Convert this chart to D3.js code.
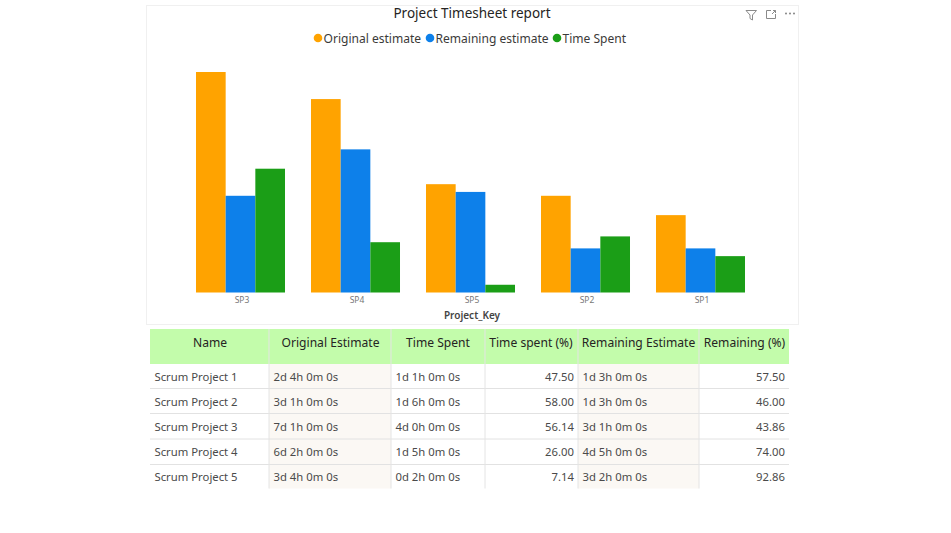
<!DOCTYPE html>
<html>
<head>
<meta charset="utf-8">
<script src="https://cdn.jsdelivr.net/npm/d3@7"></script>
<style>
  html, body { margin: 0; padding: 0; background: #fff; }
  svg { display: block; }
  text { font-family: "Noto Sans", "Open Sans", sans-serif; }
</style>
</head>
<body>
<div id="chart"></div>
<script>
// ----- chart data, in working hours (1d = 8h)
var projectKeys = ["SP3", "SP4", "SP5", "SP2", "SP1"];
var originalEstimate = [57, 50, 28, 25, 20];
var remainingEstimate = [25, 37, 26, 11.4, 11.4];
var timeSpent = [32, 13, 2, 14.5, 9.4];

var seriesNames = ["Original estimate", "Remaining estimate", "Time Spent"];
var seriesColors = ["#ffa300", "#0d80ea", "#1b9e17"];

// ----- table data
var tableHeaders = ["Name", "Original Estimate", "Time Spent", "Time spent (%)", "Remaining Estimate", "Remaining (%)"];
var projectNames = ["Scrum Project 1", "Scrum Project 2", "Scrum Project 3", "Scrum Project 4", "Scrum Project 5"];
var originalText = ["2d 4h 0m 0s", "3d 1h 0m 0s", "7d 1h 0m 0s", "6d 2h 0m 0s", "3d 4h 0m 0s"];
var spentText = ["1d 1h 0m 0s", "1d 6h 0m 0s", "4d 0h 0m 0s", "1d 5h 0m 0s", "0d 2h 0m 0s"];
var spentPct = ["47.50", "58.00", "56.14", "26.00", "7.14"];
var remainingText = ["1d 3h 0m 0s", "1d 3h 0m 0s", "3d 1h 0m 0s", "4d 5h 0m 0s", "3d 2h 0m 0s"];
var remainingPct = ["57.50", "46.00", "43.86", "74.00", "92.86"];

var w = 951;
var h = 533;

var svg = d3.select("#chart").append("svg").attr("width", w).attr("height", h);

// ----- visual frame
svg.append("rect")
    .attr("x", 146.5).attr("y", 5.5)
    .attr("width", 652).attr("height", 319)
    .attr("fill", "#fff").attr("stroke", "#f0f0f0");

svg.append("text")
    .attr("x", 472).attr("y", 18)
    .attr("text-anchor", "middle")
    .attr("font-size", 13.5)
    .attr("fill", "#252423")
    .text("Project Timesheet report");

// ----- legend
var legendX = [318, 430, 557];
var legend = svg.append("g").selectAll("g").data(seriesNames).enter().append("g")
    .attr("transform", function (d, i) { return "translate(" + legendX[i] + ",38)"; });

legend.append("circle")
    .attr("r", 4.3)
    .attr("fill", function (d, i) { return seriesColors[i]; });

legend.append("text")
    .attr("x", 5.5).attr("y", 4.7)
    .attr("font-size", 12.05)
    .attr("fill", "#3b3a39")
    .text(function (d) { return d; });

// ----- bars
var x0 = d3.scaleBand().domain(projectKeys).range([183, 758]).paddingInner(0.226).paddingOuter(0.113);
var x1 = d3.scaleBand().domain(seriesNames).range([0, x0.bandwidth()]);
var y = d3.scaleLinear().domain([0, 57]).range([292.5, 72]);

var seriesValues = [originalEstimate, remainingEstimate, timeSpent];

seriesValues.forEach(function (values, s) {
    svg.append("g").selectAll("rect").data(values).enter().append("rect")
        .attr("x", function (d, i) { return x0(projectKeys[i]) + x1(seriesNames[s]); })
        .attr("y", function (d) { return y(d); })
        .attr("width", x1.bandwidth())
        .attr("height", function (d) { return y(0) - y(d); })
        .attr("fill", seriesColors[s]);
});

// ----- x axis
var xAxis = svg.append("g")
    .attr("transform", "translate(0,292.5)")
    .call(d3.axisBottom(x0).tickSize(0).tickPadding(4));
xAxis.select(".domain").remove();
xAxis.selectAll("text")
    .attr("dx", 1.5)
    .attr("font-size", 8.5)
    .attr("fill", "#777")
    .style("font-family", '"Noto Sans", sans-serif');

svg.append("text")
    .attr("x", 472).attr("y", 319)
    .attr("text-anchor", "middle")
    .attr("font-size", 10)
    .attr("font-weight", 600)
    .attr("fill", "#444")
    .text("Project_Key");

// ----- visual header icons
var icons = svg.append("g").attr("fill", "none").attr("stroke", "#8a8a8a").attr("stroke-width", 1);
icons.append("path").attr("d", "M746,10.5H756.5L752.5,15V20L750,18.5V15Z");
icons.append("path").attr("d", "M771,10.5H766.5V18.5H775.5V14M772,14L775.5,10.5M773,10.5H775.5V13");
svg.append("g").selectAll("circle").data([0, 1, 2]).enter().append("circle")
    .attr("cx", function (d) { return 786 + d * 4; })
    .attr("cy", 13.5)
    .attr("r", 0.9)
    .attr("fill", "#777");

// ----- table
var colEdges = [150, 269, 391, 485, 578, 699, 789];
var rowEdges = [364, 388.5, 413.5, 439, 464.5, 488.5];
var columns = [projectNames, originalText, spentText, spentPct, remainingText, remainingPct];
var rightAligned = [false, false, false, true, false, true];
var shaded = [false, true, false, false, true, false];

var headerTextX = [210, 330.5, 438, 531, 638.5, 744.5];

svg.append("rect")
    .attr("x", colEdges[0]).attr("y", 329)
    .attr("width", colEdges[6] - colEdges[0]).attr("height", 35)
    .attr("fill", "#c3fcab");

svg.append("g").selectAll("text").data(tableHeaders).enter().append("text")
    .attr("x", function (d, i) { return headerTextX[i]; })
    .attr("y", 347)
    .attr("text-anchor", "middle")
    .attr("font-size", 12.1)
    .attr("fill", "#252423")
    .text(function (d) { return d; });

// shaded columns
shaded.forEach(function (on, c) {
    if (!on) return;
    svg.append("rect")
        .attr("x", colEdges[c]).attr("y", rowEdges[0])
        .attr("width", colEdges[c + 1] - colEdges[c])
        .attr("height", rowEdges[5] - rowEdges[0])
        .attr("fill", "#fbf8f4");
});

// row separators
svg.append("g").selectAll("line").data(rowEdges.slice(1, 5)).enter().append("line")
    .attr("x1", colEdges[0]).attr("x2", colEdges[6])
    .attr("y1", function (d) { return d; }).attr("y2", function (d) { return d; })
    .attr("stroke", "#e2e2e2");

// column separators
svg.append("g").selectAll("line").data(colEdges.slice(1, 6)).enter().append("line")
    .attr("x1", function (d) { return d; }).attr("x2", function (d) { return d; })
    .attr("y1", 329).attr("y2", rowEdges[5])
    .attr("stroke", "#e4e4e4");

columns.forEach(function (values, c) {
    svg.append("g").selectAll("text").data(values).enter().append("text")
        .attr("x", rightAligned[c] ? colEdges[c + 1] - 4 : colEdges[c] + 4.5)
        .attr("y", function (d, r) { return (rowEdges[r] + rowEdges[r + 1]) / 2 + 4.7; })
        .attr("text-anchor", rightAligned[c] ? "end" : "start")
        .attr("font-size", 11.3)
        .attr("fill", "#4a4a4a")
        .text(function (d) { return d; });
});
</script>
</body>
</html>
